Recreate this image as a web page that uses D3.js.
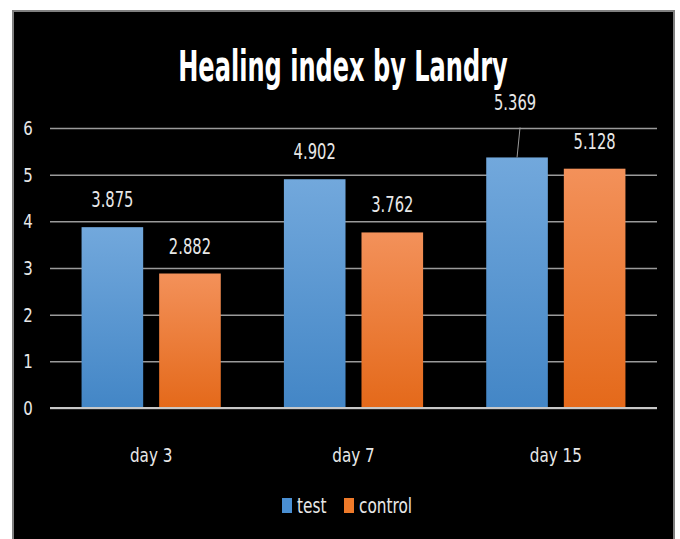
<!DOCTYPE html>
<html><head><meta charset="utf-8">
<script src="https://cdn.jsdelivr.net/npm/d3@7"></script>
<style>
html,body{margin:0;padding:0;background:#fff;}
svg{display:block;}
text{font-family:"DejaVu Sans","Noto Sans",sans-serif;}
</style></head><body>
<svg id="c" width="680" height="539"></svg>
<script>
const categories = ["day 3", "day 7", "day 15"];
const seriesNames = ["test", "control"];
const testValues = [3.875, 4.902, 5.369];
const controlValues = [2.882, 3.762, 5.128];
const yTicks = [0, 1, 2, 3, 4, 5, 6];
const title = "Healing index by Landry";

const svg = d3.select("#c");
const defs = svg.append("defs");
const grads = [["gBlue", "#72a8dc", "#4386c6"], ["gOrange", "#f3915a", "#e4691a"]];
grads.forEach(([id, top, bot]) => {
  const g = defs.append("linearGradient").attr("id", id).attr("x1", 0).attr("y1", 0).attr("x2", 0).attr("y2", 1);
  g.append("stop").attr("offset", "0%").attr("stop-color", top);
  g.append("stop").attr("offset", "100%").attr("stop-color", bot);
});
const colors = ["url(#gBlue)", "url(#gOrange)"];
const legendColors = ["#4a8fd3", "#ee7a2a"];

// condensed text helper: places text at (x,y) squeezed horizontally
function ctext(parent, x, y, str, size, sx, anchor) {
  return parent.append("text")
    .attr("transform", `translate(${x},${y}) scale(${sx},1)`)
    .attr("text-anchor", anchor || "middle")
    .attr("font-size", size).attr("fill", "#e8e8e8").text(str);
}

// background panel
svg.append("rect").attr("x", 13).attr("y", 11).attr("width", 661).attr("height", 540)
  .attr("fill", "#000").attr("stroke", "#808080").attr("stroke-width", 2);

const plot = {left: 50, right: 657, top: 128, bottom: 408};
const y = d3.scaleLinear().domain([0, 6]).range([plot.bottom, plot.top]);
const x0 = d3.scaleBand().domain(categories).range([plot.left, plot.right]).paddingInner(0.312).paddingOuter(0.156);
const x1 = d3.scaleBand().domain(seriesNames).range([0, x0.bandwidth()]).paddingInner(0.206);

// gridlines
const yAxis = d3.axisLeft(y).tickValues(yTicks).tickSize(-(plot.right - plot.left)).tickFormat(() => "");
const ga = svg.append("g").attr("transform", `translate(${plot.left},0)`).call(yAxis);
ga.select(".domain").remove();
ga.selectAll(".tick line").attr("stroke", "#9a9a9a").attr("stroke-width", 1.5);
yTicks.forEach(t => ctext(svg, 28, y(t) + 7, d3.format("d")(t), 20, 0.75));

const data = categories.map((c, i) => ({cat: c, vals: [testValues[i], controlValues[i]]}));
const groups = svg.append("g").selectAll("g").data(data).join("g")
  .attr("transform", d => `translate(${x0(d.cat)},0)`);
groups.selectAll("rect").data(d => d.vals.map((v, j) => ({v, s: seriesNames[j], j}))).join("rect")
  .attr("x", d => x1(d.s)).attr("width", x1.bandwidth())
  .attr("y", d => y(d.v)).attr("height", d => y(0) - y(d.v))
  .attr("fill", d => colors[d.j]);

// baseline
svg.append("line").attr("x1", plot.left).attr("x2", plot.right).attr("y1", y(0)).attr("y2", y(0))
  .attr("stroke", "#c8c8c8").attr("stroke-width", 2);

// data labels
const fmt = d3.format(".3f");
groups.each(function(d, i) {
  const g = d3.select(this);
  d.vals.forEach((v, j) => {
    const cx = x1(seriesNames[j]) + x1.bandwidth() / 2;
    let ly = y(v) - 20;
    let lx = cx;
    if (i === 2 && j === 0) {
      ly = y(v) - 47; lx = cx - 2;
      g.append("line").attr("x1", cx + 3).attr("y1", y(v) - 30).attr("x2", cx).attr("y2", y(v))
        .attr("stroke", "#9a9a9a").attr("stroke-width", 1);
    }
    ctext(g, lx, ly, fmt(v), 22, 0.67);
  });
});

// category labels
categories.forEach(c => ctext(svg, x0(c) + x0.bandwidth() / 2, 462, c, 19, 0.8));

// title
ctext(svg, 343, 81, title, 43, 0.56).attr("font-weight", "bold").attr("fill", "#fff");

// legend
const legItems = [{n: seriesNames[0], x: 282}, {n: seriesNames[1], x: 344}];
legItems.forEach((it, j) => {
  svg.append("rect").attr("x", it.x).attr("y", 498).attr("width", 10).attr("height", 15).attr("fill", legendColors[j]);
  ctext(svg, it.x + 15, 513, it.n, 21, 0.73, "start");
});
</script></body></html>
